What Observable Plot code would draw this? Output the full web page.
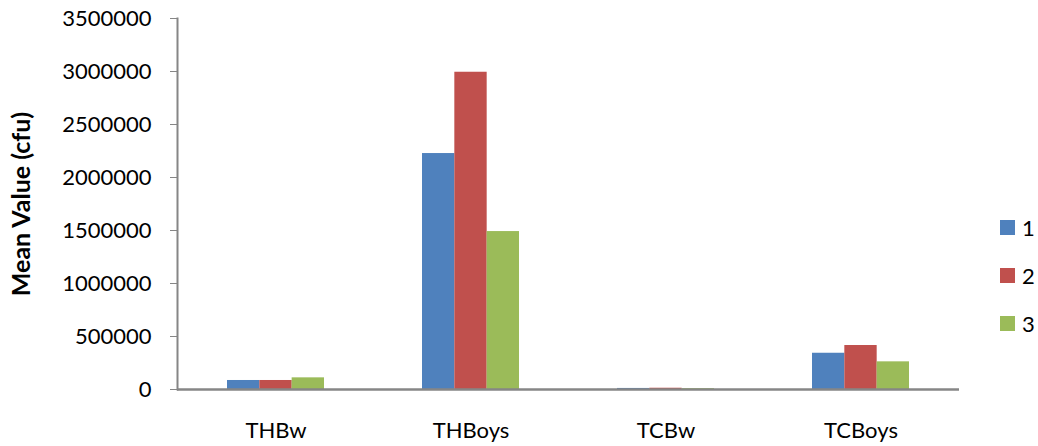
<!DOCTYPE html>
<html>
<head>
<meta charset="utf-8">
<script src="https://cdn.jsdelivr.net/npm/d3@7"></script>
<script src="https://cdn.jsdelivr.net/npm/@observablehq/plot@0.6"></script>
<style>
  body { margin: 0; background: #fff; }
  #wrap { position: relative; width: 1038px; height: 446px; font-family: Lato, "Open Sans", sans-serif; }
  #chart { position: absolute; left: 0; top: 0; }
  g[aria-label="y-axis label"] text { font-weight: bold; font-size: 25px; }
  #legend { position: absolute; left: 1000px; top: 203px; font-size: 22px; color: #000; }
  .item { display: flex; align-items: center; height: 48px; }
  .sw { width: 15px; height: 15px; margin-right: 7px; }
</style>
</head>
<body>
<div id="wrap"><div id="chart"></div><div id="legend"></div></div>
<script>
const categories = ["THBw", "THBoys", "TCBw", "TCBoys"];
const seriesNames = ["1", "2", "3"];
const series1 = [85000, 2226000, 10000, 342000];
const series2 = [85000, 2993000, 12000, 415000];
const series3 = [110000, 1490000, 8000, 261000];
const yTicks = [0, 500000, 1000000, 1500000, 2000000, 2500000, 3000000, 3500000];
const colors = ["#4F81BD", "#C0504D", "#9BBB59"];

const allSeries = [series1, series2, series3];
const data = allSeries.map((vals, si) =>
  categories.map((c, i) => ({category: c, series: seriesNames[si], value: vals[i]})));

const padInner = 0.504;
const step = (959 - 177) / categories.length;
const bw = step * (1 - padInner);
const barW = bw / 3;
const barMarks = data.map((rows, si) =>
  Plot.barY(rows, {
    x: "category", y: "value", fill: colors[si],
    insetLeft: si * barW, insetRight: bw - (si + 1) * barW
  }));

const chart = Plot.plot({
  width: 985,
  height: 446,
  marginLeft: 177,
  marginRight: 26,
  marginTop: 18,
  marginBottom: 57,
  style: {fontFamily: "Lato, 'Open Sans', sans-serif", fontSize: "22px", color: "#000", background: "#fff"},
  x: {domain: categories, paddingInner: padInner, paddingOuter: padInner / 2},
  y: {domain: [0, 3500000]},
  marks: [
    ...barMarks,
    Plot.axisY({ticks: yTicks, tickSize: 7, tickPadding: 19, stroke: "#868686", tickFormat: d3.format("d"),
      label: "Mean Value (cfu)", labelAnchor: "center", labelArrow: false, labelOffset: 165}),
    Plot.axisX({tickSize: 0, tickPadding: 33, label: null}),
    Plot.frame({anchor: "left", stroke: "#868686", strokeWidth: 2}),
    Plot.ruleY([0], {stroke: "#868686", strokeWidth: 2.5})
  ]
});
document.getElementById("chart").appendChild(chart);

const legend = document.getElementById("legend");
seriesNames.forEach((n, i) => {
  const it = document.createElement("div");
  it.className = "item";
  it.innerHTML = `<div class="sw" style="background:${colors[i]}"></div><span>${n}</span>`;
  legend.appendChild(it);
});
</script>
</body>
</html>
